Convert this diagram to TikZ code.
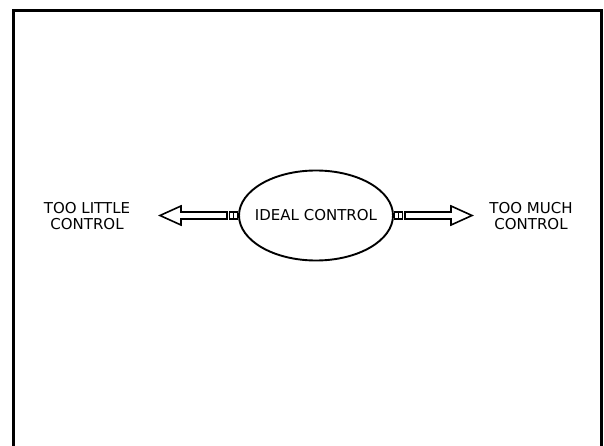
\documentclass[tikz,border=0pt]{standalone}
\usepackage{fontspec}
\setmainfont{DejaVu Sans}
\usetikzlibrary{shapes.geometric}
\begin{document}
\begin{tikzpicture}[x=1pt,y=-1pt,
  every node/.style={font=\fontsize{15pt}{16.5pt}\selectfont},
  frameline/.style={line width=3pt},
  bubble/.style={ellipse,draw,line width=1.9pt,minimum width=154pt,minimum height=90pt,inner sep=0pt,outer sep=0pt},
  caption/.style={align=center,inner sep=0pt},
  arrowline/.style={draw,line width=1.6pt,line join=miter,fill=white},
  fatarrow/.pic={
    % hollow block arrow leaving the bubble, with two small collar boxes
    \path[arrowline] (1.5,-3.5) rectangle (5.5,3.5);
    \path[arrowline] (5.5,-3.5) rectangle (9.5,3.5);
    \path[arrowline] (12,-3.5) -- (58,-3.5) -- (58,-9.5) -- (79,0)
      -- (58,9.5) -- (58,3.5) -- (12,3.5) -- cycle;
  }]
\useasboundingbox (0,0) rectangle (604,446);
\clip (0,0) rectangle (604,446);
\fill[white] (0,0) rectangle (604,446);

% open frame, running off the bottom edge
\draw[frameline] (13.5,450) -- (13.5,10.5) -- (601.5,10.5) -- (601.5,450);

% the label is boxed at zero width so the ellipse keeps its set size
\node[bubble] (ideal) at (316,215.5) {\makebox[0pt]{IDEAL CONTROL}};
\node[caption] (little) at (87,216) {TOO LITTLE\\CONTROL};
\node[caption] (much) at (531,216) {TOO MUCH\\CONTROL};

\path (ideal.east) pic {fatarrow};
\path (ideal.west) pic[rotate=180] {fatarrow};
\end{tikzpicture}
\end{document}
